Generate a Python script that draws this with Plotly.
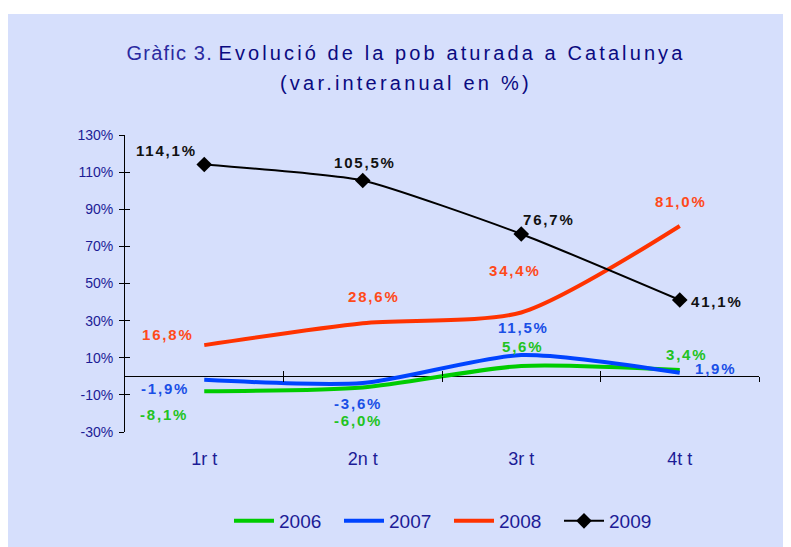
import plotly.graph_objects as go

categories = ["1r t", "2n t", "3r t", "4t t"]
v2006 = [-8.1, -6.0, 5.6, 3.4]
v2007 = [-1.9, -3.6, 11.5, 1.9]
v2008 = [16.8, 28.6, 34.4, 81.0]
v2009 = [114.1, 105.5, 76.7, 41.1]
y_ticks = [-30, -10, 10, 30, 50, 70, 90, 110, 130]
y_ticktext = [f"{v}%" for v in y_ticks]

xi = list(range(len(categories)))
bounds = [i + 0.5 for i in xi]

NAVY = "#1c1c96"
BG = "#d6dffc"
FONT = "Liberation Sans, Arial"
colors = {"2006": "#00cc00", "2007": "#0044ff", "2008": "#ff3300", "2009": "#000000"}
label_colors = {"2006": "#22c322", "2007": "#1a4fe6", "2008": "#ff4a1a", "2009": "#111111"}
smooth = {"2006": 0.7, "2007": 0.7, "2008": 0.7, "2009": 0.5}

# label offsets in pixels (style only)
offsets = {
    "2006": [(-40, -23), (-5, -33), (1, 19), (7, 16)],
    "2007": [(-39, -9), (-5, -20), (2, 27), (36, 4)],
    "2008": [(-36, 11), (11, 27), (-6, 42), (1, 24)],
    "2009": [(-38, 14), (2, 18), (28, 14), (37, -1)],
}

W, H = 783, 539
L, R, T, B = 117, 32, 127, 115
PW, PH = W - L - R, H - T - B

fig = go.Figure()

series = [("2006", v2006, "x", "y"), ("2007", v2007, "x", "y"),
          ("2008", v2008, "x2", "y"), ("2009", v2009, "x3", "y2")]

for name, vals, xa, ya in series:
    if name == "2009":
        fig.add_trace(go.Scatter(
            x=xi, y=vals, name=name, mode="lines+markers", xaxis=xa, yaxis=ya,
            line=dict(color=colors[name], width=2, shape="spline", smoothing=smooth[name]),
            marker=dict(symbol="diamond", size=12, color="#000000"),
            hoverinfo="skip"))
    else:
        fig.add_trace(go.Scatter(
            x=xi, y=vals, name=name, mode="lines", xaxis=xa, yaxis=ya,
            line=dict(color=colors[name], width=4, shape="spline", smoothing=smooth[name]),
            hoverinfo="skip"))

annotations = []
for name, vals, xa, ya in series:
    for i, v in enumerate(vals):
        dx, dy = offsets[name][i]
        txt = f"{v:.1f}".replace(".", ",") + "%"
        annotations.append(dict(
            x=xi[i], y=v, xref="x", yref="y", showarrow=False,
            xshift=dx, yshift=dy,
            text=f"<span style='letter-spacing:1.8px'><b>{txt}</b></span>",
            font=dict(family=FONT, size=15, color=label_colors[name])))

# second title line
annotations.append(dict(
    x=(398 - L) / PW, y=(H - B - 75) / PH, xref="paper", yref="paper",
    xanchor="center", yanchor="middle", showarrow=False,
    text="<span style='letter-spacing:3.2px'>(var.interanual en %)</span>",
    font=dict(family=FONT, size=20, color="#0a0a80")))

title_text = ("<span style='letter-spacing:1.2px'>Gràfic 3.</span> "
              "<span style='letter-spacing:3.1px;color:#0a0a80'>Evolució de la pob aturada a Catalunya</span>")

zero_pos = (0 - y_ticks[0]) / (y_ticks[-1] - y_ticks[0])

fig.update_layout(
    width=W, height=H,
    margin=dict(l=L, r=R, t=T, b=B, autoexpand=False),
    paper_bgcolor="white",
    plot_bgcolor="rgba(0,0,0,0)",
    showlegend=True,
    title=dict(text=title_text, x=398 / W, xanchor="center", y=1 - 45 / H, yanchor="middle",
               font=dict(family=FONT, size=20, color="#2a2aa0")),
    xaxis=dict(range=[-0.5, 3.5], tickmode="array", tickvals=xi, ticktext=categories,
               showline=False, ticks="", showgrid=False, zeroline=False,
               ticklabelstandoff=14,
               tickfont=dict(family=FONT, size=18, color=NAVY)),
    xaxis2=dict(range=[-0.5, 3.5], overlaying="x", anchor="free", position=zero_pos,
                tickmode="array", tickvals=bounds, ticks="outside", ticklen=5,
                tickcolor="black", tickwidth=1, showticklabels=False,
                showline=False, showgrid=False, zeroline=False),
    xaxis3=dict(range=[-0.5, 3.5], overlaying="x", anchor="free", position=zero_pos,
                tickmode="array", tickvals=bounds, ticks="inside", ticklen=5,
                tickcolor="black", tickwidth=1, showticklabels=False,
                showline=False, showgrid=False, zeroline=False),
    yaxis=dict(range=[y_ticks[0], y_ticks[-1]], tickmode="array", tickvals=y_ticks,
               ticktext=y_ticktext, ticks="outside", ticklen=5, tickcolor="black",
               showline=True, linecolor="black", linewidth=1,
               showgrid=False, zeroline=True, zerolinecolor="black", zerolinewidth=1,
               ticklabelstandoff=3,
               tickfont=dict(family=FONT, size=14, color=NAVY)),
    yaxis2=dict(range=[y_ticks[0], y_ticks[-1]], overlaying="y", anchor="x",
                tickmode="array", tickvals=y_ticks, ticks="inside", ticklen=5,
                tickcolor="black", showticklabels=False, showline=False,
                showgrid=False, zeroline=False),
    legend=dict(orientation="h", x=(441 - L) / PW, xanchor="center",
                y=-(513 - (H - B)) / PH, yanchor="middle",
                font=dict(family=FONT, size=19, color=NAVY),
                bgcolor="rgba(0,0,0,0)", itemwidth=40, entrywidth=55,
                tracegroupgap=0),
    annotations=annotations,
    shapes=[dict(type="rect", xref="paper", yref="paper", layer="below",
                 x0=-(L + 5) / PW, x1=(W + 10 - L) / PW,
                 y0=-(B + 10) / PH, y1=(H - B - 6) / PH,
                 fillcolor=BG, line=dict(width=0))],
)

fig.write_html("out.html")
